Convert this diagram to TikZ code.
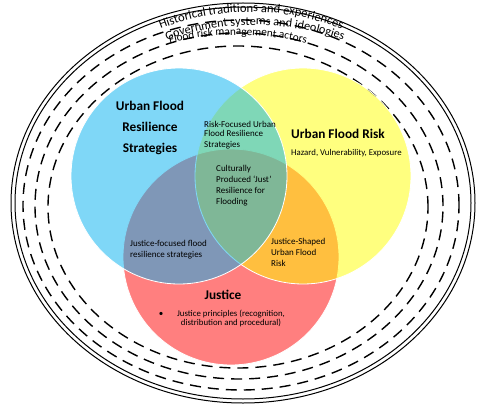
\documentclass[tikz,border=0pt]{standalone}
\usepackage{fontspec}
\setmainfont{Carlito}
\usetikzlibrary{decorations.text}
\definecolor{vblue}{RGB}{0,176,240}
\definecolor{vyellow}{RGB}{255,255,0}
\definecolor{vred}{RGB}{255,0,0}
\begin{document}
\begin{tikzpicture}[x=1pt,y=1pt,
  solidring/.style={draw=black, line width=1pt},
  dashring/.style={draw=black, line width=1.4pt, dash pattern=on 11pt off 7pt},
  venn/.style={circle, minimum size=216pt, inner sep=0pt, fill opacity=0.5, draw=white, line width=0.8pt},
  title/.style={font=\fontsize{13.3}{20.5}\selectfont\bfseries, align=center, inner sep=0pt},
  small/.style={font=\fontsize{9}{11}\selectfont, align=left, inner sep=0pt},
]
\useasboundingbox (0,0) rectangle (487,405);
% outer rings
\draw[solidring] (243,202) ellipse [x radius=232, y radius=200];
\draw[solidring] (243,202) ellipse [x radius=228, y radius=196];
\draw[dashring] (241,200) ellipse [x radius=218, y radius=185];
\draw[dashring] (239,199) ellipse [x radius=204, y radius=173];
\draw[dashring] (238,198) ellipse [x radius=190, y radius=161];
% arc texts
\path[decorate, decoration={text along path, text align=center,
  text={|\fontsize{12.5}{14}\selectfont|Historical traditions and experiences}}]
  (251,143) ++(115:250) arc[start angle=115, end angle=65, radius=250];
\path[decorate, decoration={text along path, text align=center,
  text={|\fontsize{12.2}{14}\selectfont|Government systems and ideologies}}]
  (255,120) ++(113:260) arc[start angle=113, end angle=67, radius=260];
\path[decorate, decoration={text along path, text align=center,
  text={|\fontsize{11.2}{13}\selectfont|Flood risk management actors}}]
  (238,80) ++(110:290) arc[start angle=110, end angle=70, radius=290];
% venn circles
\node[venn, fill=vred] (justice) at (231,148) {};
\node[venn, fill=vyellow] (risk) at (303,229) {};
\node[venn, fill=vblue] (resil) at (179,229) {};
% texts (multi-line nodes: base = last line)
\node[title, anchor=base] (tres) at (150,253) {Urban Flood\\Resilience\\Strategies};
\node[title, anchor=base west] (trisk) at (291,266) {Urban Flood Risk};
\node[small, anchor=base west, font=\fontsize{8.8}{10}\selectfont] (thaz) at (291,249) {Hazard, Vulnerability, Exposure};
\node[small, anchor=base west, font=\fontsize{9}{10}\selectfont] (trf) at (204,258) {Risk-Focused Urban\\Flood Resilience\\Strategies};
\node[small, anchor=base west] (tcul) at (216,201) {Culturally\\Produced ‘Just’\\Resilience for\\Flooding};
\node[small, anchor=base west] (tjf) at (130,148) {Justice-focused flood\\resilience strategies};
\node[small, anchor=base west] (tjs) at (271,139) {Justice-Shaped\\Urban Flood\\Risk};
\node[title, anchor=base] (tjus) at (223,106) {Justice};
\node[small, anchor=base] (tbul) at (161,89) {•};
\node[small, anchor=base, align=center, font=\fontsize{8.8}{9}\selectfont] (tjp) at (231,80) {Justice principles (recognition,\\distribution and procedural)};
\end{tikzpicture}
\end{document}
